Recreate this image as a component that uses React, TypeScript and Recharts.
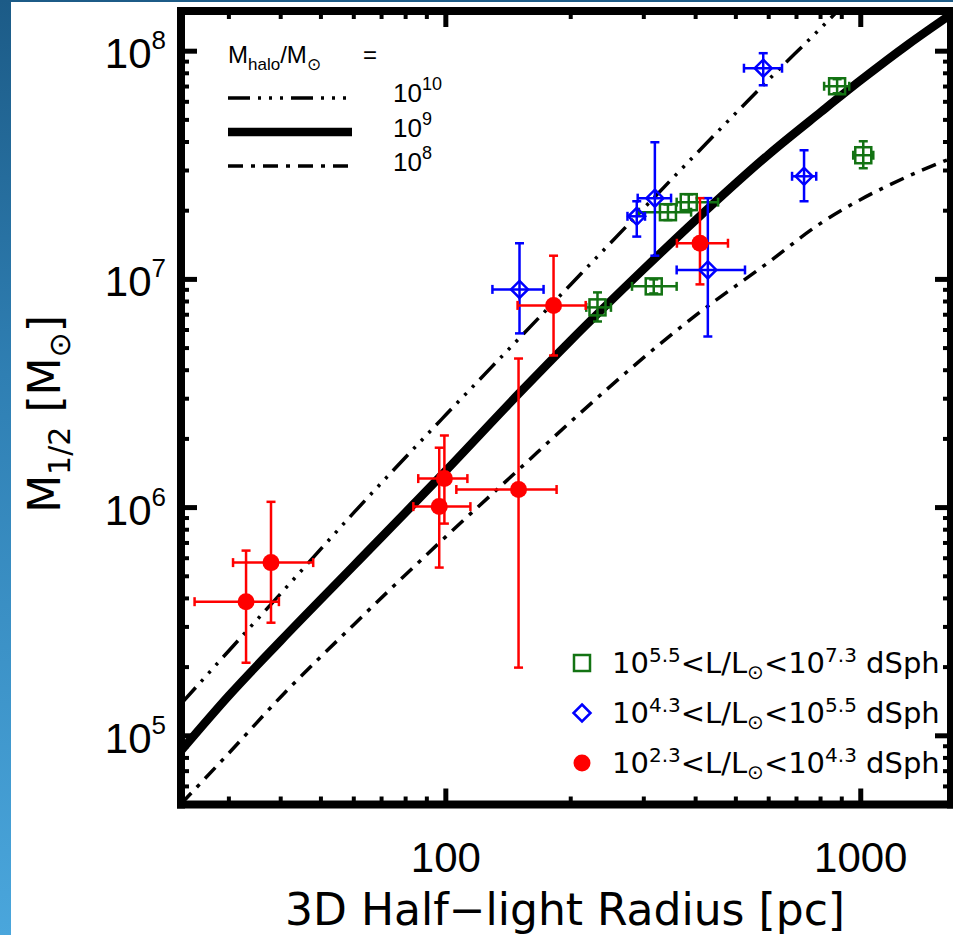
import React from 'react';
import { ComposedChart, Line, Scatter, XAxis, YAxis, ErrorBar } from 'recharts';

// ---------- axes ----------
const X_DOMAIN: [number, number] = [23, 1650];
const Y_DOMAIN: [number, number] = [5e4, 1.5e8];
const X_MAJOR = [100, 1000];
const X_MINOR = [30, 40, 50, 60, 70, 80, 90, 200, 300, 400, 500, 600, 700, 800, 900];
const Y_MAJOR = [1e5, 1e6, 1e7, 1e8];
const Y_MINOR = [
  6e4, 7e4, 8e4, 9e4,
  2e5, 3e5, 4e5, 5e5, 6e5, 7e5, 8e5, 9e5,
  2e6, 3e6, 4e6, 5e6, 6e6, 7e6, 8e6, 9e6,
  2e7, 3e7, 4e7, 5e7, 6e7, 7e7, 8e7, 9e7,
];

// ---------- model curves (M_halo = 1e10, 1e9, 1e8) ----------
const CURVE_R = [23, 30, 40, 60, 100, 150, 200, 300, 400, 600, 800, 1000, 1300, 1650];
const HALO_1E10 = [1.38e5, 2.36e5, 4.2e5, 9.5e5, 2.55e6, 5.5e6, 9.5e6, 2.05e7, 3.53e7, 7.5e7, 1.26e8, 1.9e8];
const HALO_1E9 = [8.6e4, 1.5e5, 2.61e5, 5.57e5, 1.45e6, 3.16e6, 5.4e6, 1.11e7, 1.82e7, 3.53e7, 5.4e7, 7.46e7, 1.07e8, 1.45e8];
const HALO_1E8 = [5.03e4, 8.4e4, 1.48e5, 3.07e5, 7.46e5, 1.47e6, 2.38e6, 4.55e6, 6.95e6, 1.19e7, 1.76e7, 2.24e7, 2.83e7, 3.39e7];

// ---------- dSph data ----------
// 10^5.5 < L < 10^7.3 (green squares)
const GREEN_R = [232, 317, 343, 385, 877, 1014];
const GREEN_R_LO = [218, 281, 292, 360, 816, 959];
const GREEN_R_HI = [250, 360, 390, 453, 938, 1072];
const GREEN_M = [7.54e6, 9.32e6, 1.97e7, 2.18e7, 7.02e7, 3.5e7];
const GREEN_M_LO = [6.54e6, 8.68e6, 1.82e7, 2.01e7, 6.54e7, 3.07e7];
const GREEN_M_HI = [8.77e6, 1.0e7, 2.13e7, 2.36e7, 7.54e7, 4.03e7];

// 10^4.3 < L < 10^5.5 (blue diamonds)
const BLUE_R = [150.5, 288.5, 319, 428, 582, 730];
const BLUE_R_LO = [129.5, 274, 290, 360, 523, 683];
const BLUE_R_HI = [172, 302, 349, 526, 646, 781];
const BLUE_M = [9.04e6, 1.89e7, 2.27e7, 1.1e7, 8.42e7, 2.83e7];
const BLUE_M_LO = [5.8e6, 1.54e7, 1.27e7, 5.62e6, 7.09e7, 2.2e7];
const BLUE_M_HI = [1.44e7, 2.2e7, 3.99e7, 2.27e7, 9.8e7, 3.68e7];

// 10^2.3 < L < 10^4.3 (red circles)
const RED_R = [33.0, 37.9, 96.4, 99.2, 149.7, 181.8, 409.7];
const RED_R_LO = [24.8, 30.7, 83.5, 85.8, 106, 148.9, 360.5];
const RED_R_HI = [39.6, 47.9, 114.6, 112.7, 184.9, 217.3, 478.6];
const RED_M = [3.87e5, 5.74e5, 1.01e6, 1.34e6, 1.2e6, 7.69e6, 1.44e7];
const RED_M_LO = [2.09e5, 3.13e5, 5.46e5, 8.51e5, 1.99e5, 4.64e6, 9.51e6];
const RED_M_HI = [6.48e5, 1.06e6, 1.83e6, 2.07e6, 4.5e6, 1.27e7, 2.27e7];

const GREEN = '#137313';
const BLUE = '#0000ff';
const RED = '#ff0000';
const DASH_3DOT = '22 8 3 8 3 8 3 8';
const DASH_DOT = '15 8 4 8';

const curve = (ys: number[]) => ys.map((y, i) => ({ x: CURVE_R[i], y }));
const points = (r: number[], rlo: number[], rhi: number[], m: number[], mlo: number[], mhi: number[]) =>
  r.map((x, i) => ({ x, y: m[i], ex: [x - rlo[i], rhi[i] - x], ey: [m[i] - mlo[i], mhi[i] - m[i]] }));

const halo10 = curve(HALO_1E10);
const halo9 = curve(HALO_1E9);
const halo8 = curve(HALO_1E8);
const greenData = points(GREEN_R, GREEN_R_LO, GREEN_R_HI, GREEN_M, GREEN_M_LO, GREEN_M_HI);
const blueData = points(BLUE_R, BLUE_R_LO, BLUE_R_HI, BLUE_M, BLUE_M_LO, BLUE_M_HI);
const redData = points(RED_R, RED_R_LO, RED_R_HI, RED_M, RED_M_LO, RED_M_HI);

const LABEL_FONT = '"Liberation Sans", Arial, sans-serif';
const TITLE_FONT = '"DejaVu Sans", sans-serif';
const MAJOR_LEN = 16;
const MINOR_LEN = 8;

const isMajorX = (v: number) => X_MAJOR.includes(v);
const isMajorY = (v: number) => Y_MAJOR.includes(v);

function BottomTick(p: any) {
  const { x, y, payload } = p;
  const major = isMajorX(payload.value);
  return (
    <g>
      <line x1={x} y1={y} x2={x} y2={y - (major ? MAJOR_LEN : MINOR_LEN)} stroke="#000" strokeWidth={major ? 5 : 4} />
      {major && (
        <text x={x} y={y + 67} textAnchor="middle" fontFamily={LABEL_FONT} fontSize={42} fill="#000">
          {payload.value}
        </text>
      )}
    </g>
  );
}
function TopTick(p: any) {
  const { x, y, payload } = p;
  const major = isMajorX(payload.value);
  return <line x1={x} y1={y} x2={x} y2={y + (major ? MAJOR_LEN : MINOR_LEN)} stroke="#000" strokeWidth={major ? 5 : 4} />;
}
function LeftTick(p: any) {
  const { x, y, payload } = p;
  const major = isMajorY(payload.value);
  const e = Math.round(Math.log10(payload.value));
  return (
    <g>
      <line x1={x} y1={y} x2={x + (major ? MAJOR_LEN : MINOR_LEN)} y2={y} stroke="#000" strokeWidth={major ? 5 : 4} />
      {major && (
        <text x={x - 15} y={y + 17} textAnchor="end" fontFamily={LABEL_FONT} fontSize={42} fill="#000">
          10<tspan dy={-19} fontSize={26}>{e}</tspan>
        </text>
      )}
    </g>
  );
}
function RightTick(p: any) {
  const { x, y, payload } = p;
  const major = isMajorY(payload.value);
  return <line x1={x} y1={y} x2={x - (major ? MAJOR_LEN : MINOR_LEN)} y2={y} stroke="#000" strokeWidth={major ? 5 : 4} />;
}

function SquareShape(p: any) {
  const { cx, cy } = p;
  const s = 8;
  return <rect x={cx - s} y={cy - s} width={2 * s} height={2 * s} fill="none" stroke={GREEN} strokeWidth={2.5} />;
}
function DiamondShape(p: any) {
  const { cx, cy } = p;
  const s = 8.5;
  return <polygon points={`${cx},${cy - s} ${cx + s},${cy} ${cx},${cy + s} ${cx - s},${cy}`} fill="none" stroke={BLUE} strokeWidth={2.5} />;
}
function CircleShape(p: any) {
  const { cx, cy } = p;
  return <circle cx={cx} cy={cy} r={8.5} fill={RED} />;
}

const frameLine = { stroke: '#000', strokeWidth: 8, strokeLinecap: 'square' as const };

function Legends() {
  const lx = 582;
  const rows = [
    { y: 663, lo: '5.5', hi: '7.3', shape: <SquareShape cx={lx} cy={663} /> },
    { y: 713, lo: '4.3', hi: '5.5', shape: <DiamondShape cx={lx} cy={713} /> },
    { y: 763, lo: '2.3', hi: '4.3', shape: <CircleShape cx={lx} cy={763} /> },
  ];
  return (
    <svg width={953} height={935} style={{ position: 'absolute', left: 0, top: 0, pointerEvents: 'none' }}>
      {/* halo legend */}
      <g fontFamily={LABEL_FONT} fill="#000">
        <text x={228} y={63} fontSize={24}>
          M<tspan fontSize={17} dy={7}>halo</tspan>
          <tspan dy={-7}>/M</tspan>
          <tspan fontSize={17} dy={7}>⊙</tspan>
        </text>
        <text x={363} y={63} fontSize={24}>=</text>
        <line x1={228} x2={352} y1={98} y2={98} stroke="#000" strokeWidth={3.5} strokeDasharray={DASH_3DOT} />
        <line x1={228} x2={352} y1={132} y2={132} stroke="#000" strokeWidth={8.5} />
        <line x1={228} x2={352} y1={166} y2={166} stroke="#000" strokeWidth={3.5} strokeDasharray={DASH_DOT} />
        <text x={393} y={102} fontSize={26}>10<tspan dy={-12} fontSize={18}>10</tspan></text>
        <text x={393} y={137} fontSize={26}>10<tspan dy={-12} fontSize={18}>9</tspan></text>
        <text x={393} y={171} fontSize={26}>10<tspan dy={-12} fontSize={18}>8</tspan></text>
      </g>
      {/* luminosity legend */}
      <g fontFamily={TITLE_FONT} fill="#000">
        {rows.map((r) => (
          <g key={r.lo}>
            {r.shape}
            <text x={612} y={r.y + 10} fontSize={29}>
              10<tspan dy={-11} fontSize={20}>{r.lo}</tspan>
              <tspan dy={11}>{'<L/L'}</tspan>
              <tspan dy={6} fontSize={20}>⊙</tspan>
              <tspan dy={-6}>{'<10'}</tspan>
              <tspan dy={-11} fontSize={20}>{r.hi}</tspan>
              <tspan dy={11}>{' dSph'}</tspan>
            </text>
          </g>
        ))}
      </g>
      {/* axis titles */}
      <text x={565} y={925} textAnchor="middle" fontFamily={TITLE_FONT} fontSize={44} fill="#000">
        3D Half−light Radius [pc]
      </text>
      <text transform="rotate(-90 60 414)" x={60} y={414} textAnchor="middle" fontFamily={TITLE_FONT} fontSize={44} fill="#000">
        M<tspan dy={10} fontSize={30}>1/2</tspan>
        <tspan dy={-10}> [M</tspan>
        <tspan dy={10} fontSize={30}>⊙</tspan>
        <tspan dy={-10}>]</tspan>
      </text>
    </svg>
  );
}

export default function App() {
  return (
    <div
      style={{
        position: 'fixed',
        left: 0,
        top: 0,
        width: 953,
        height: 935,
        overflow: 'hidden',
        background: 'linear-gradient(to bottom, #1c5b87 0%, #2f7fb3 40%, #4aa6dc 100%)',
      }}
    >
      <div style={{ position: 'absolute', left: 11, top: 2, right: 0, bottom: 0, background: '#fff' }} />
      <div style={{ position: 'absolute', left: 0, top: 0 }}>
        <ComposedChart width={953} height={935} margin={{ top: 10, right: 1, bottom: 129.5, left: 180 }}>
          <XAxis
            xAxisId={0}
            type="number"
            dataKey="x"
            scale="log"
            domain={X_DOMAIN}
            allowDataOverflow
            ticks={[...X_MINOR, ...X_MAJOR]}
            interval={0}
            height={1}
            tickSize={0}
            tickMargin={0}
            tickLine={false}
            axisLine={frameLine}
            tick={(p: any) => <BottomTick {...p} />}
          />
          <XAxis
            xAxisId="top"
            orientation="top"
            type="number"
            dataKey="x"
            scale="log"
            domain={X_DOMAIN}
            allowDataOverflow
            ticks={[...X_MINOR, ...X_MAJOR]}
            interval={0}
            height={1}
            tickSize={0}
            tickMargin={0}
            tickLine={false}
            axisLine={frameLine}
            tick={(p: any) => <TopTick {...p} />}
          />
          <YAxis
            yAxisId={0}
            type="number"
            dataKey="y"
            scale="log"
            domain={Y_DOMAIN}
            allowDataOverflow
            ticks={[...Y_MINOR, ...Y_MAJOR]}
            interval={0}
            width={1}
            tickSize={0}
            tickMargin={0}
            tickLine={false}
            axisLine={frameLine}
            tick={(p: any) => <LeftTick {...p} />}
          />
          <YAxis
            yAxisId="right"
            orientation="right"
            type="number"
            dataKey="y"
            scale="log"
            domain={Y_DOMAIN}
            allowDataOverflow
            ticks={[...Y_MINOR, ...Y_MAJOR]}
            interval={0}
            width={1}
            tickSize={0}
            tickMargin={0}
            tickLine={false}
            axisLine={frameLine}
            tick={(p: any) => <RightTick {...p} />}
          />
          <Line data={halo10} dataKey="y" type="monotone" stroke="#000" strokeWidth={3.5} strokeDasharray={DASH_3DOT} dot={false} isAnimationActive={false} />
          <Line data={halo9} dataKey="y" type="monotone" stroke="#000" strokeWidth={8.5} dot={false} isAnimationActive={false} />
          <Line data={halo8} dataKey="y" type="monotone" stroke="#000" strokeWidth={3.5} strokeDasharray={DASH_DOT} dot={false} isAnimationActive={false} />
          <Scatter data={greenData} dataKey="y" shape={SquareShape} isAnimationActive={false}>
            <ErrorBar dataKey="ex" direction="x" width={4.5} stroke={GREEN} strokeWidth={2.5} isAnimationActive={false} />
            <ErrorBar dataKey="ey" direction="y" width={4.5} stroke={GREEN} strokeWidth={2.5} isAnimationActive={false} />
          </Scatter>
          <Scatter data={blueData} dataKey="y" shape={DiamondShape} isAnimationActive={false}>
            <ErrorBar dataKey="ex" direction="x" width={4.5} stroke={BLUE} strokeWidth={2.5} isAnimationActive={false} />
            <ErrorBar dataKey="ey" direction="y" width={4.5} stroke={BLUE} strokeWidth={2.5} isAnimationActive={false} />
          </Scatter>
          <Scatter data={redData} dataKey="y" shape={CircleShape} isAnimationActive={false}>
            <ErrorBar dataKey="ex" direction="x" width={4.5} stroke={RED} strokeWidth={2.5} isAnimationActive={false} />
            <ErrorBar dataKey="ey" direction="y" width={4.5} stroke={RED} strokeWidth={2.5} isAnimationActive={false} />
          </Scatter>
        </ComposedChart>
      </div>
      <Legends />
    </div>
  );
}
